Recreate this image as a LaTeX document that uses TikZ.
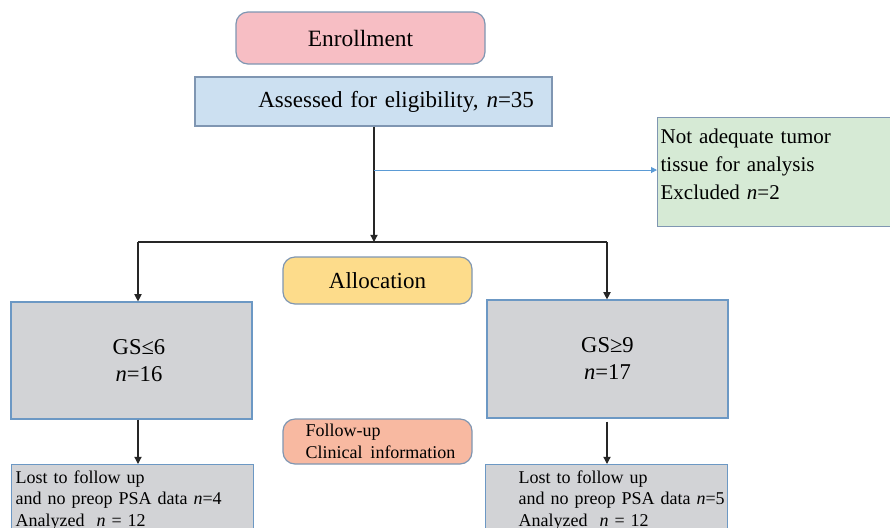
\documentclass[tikz,border=0pt]{standalone}
\usepackage{fontspec}
\setmainfont{Liberation Serif}
\usepackage{tikz}
\usetikzlibrary{arrows.meta,positioning,calc}

\definecolor{enrollfill}{HTML}{F7BEC4}
\definecolor{assessfill}{HTML}{CCE0F1}
\definecolor{exclfill}{HTML}{D6EAD5}
\definecolor{allocfill}{HTML}{FDDC8B}
\definecolor{groupfill}{HTML}{D2D3D6}
\definecolor{followfill}{HTML}{F8B9A1}
\definecolor{boxline}{HTML}{7F96B2}
\definecolor{grpline}{HTML}{6C98C4}
\definecolor{exclarrow}{HTML}{5B9BD5}

\tikzset{
  stagebox/.style={draw=boxline, line width=0.6pt, rounded corners=6pt, align=center},
  flowbox/.style={draw=grpline, line width=0.6pt, fill=groupfill},
  flowarrow/.style={-{Triangle[width=3.6pt,length=3.6pt]}, line width=0.6pt, black!85},
  flowline/.style={line width=0.6pt, black!85}
}

\begin{document}
\begin{tikzpicture}[x=0.5pt,y=-0.5pt]
  \useasboundingbox (0,0) rectangle (890,527);
  \clip (0,0) rectangle (890,527);
  % enrollment and eligibility
  \node[stagebox, fill=enrollfill, minimum width=124.5pt, minimum height=26pt,
        font=\fontsize{11.7}{14}\selectfont] (enroll) at (360.5,38) {Enrollment};
  \node[draw=boxline, line width=0.6pt, fill=assessfill, minimum width=178.5pt,
        minimum height=24.5pt, text width=160.5pt, inner xsep=9pt, align=right,
        font=\fontsize{11.5}{14}\selectfont] (assess) at (373.5,101.5)
        {Assessed for eligibility,\hspace{4pt}\textit{n}=35};
  % excluded
  \node[draw=boxline, line width=0.6pt, fill=exclfill, anchor=north west,
        text width=140pt, inner xsep=1.5pt, inner ysep=5.5pt, align=left,
        font=\fontsize{10.5}{14}\selectfont] (excl) at (657,117)
        {Not adequate tumor\\tissue for analysis\\Excluded \textit{n}=2\\[-6pt]\mbox{}};
  % allocation
  \node[stagebox, fill=allocfill, minimum width=94.5pt, minimum height=23.5pt,
        font=\fontsize{11.5}{14}\selectfont] (alloc) at (377.5,280.5) {Allocation};
  % groups
  \node[flowbox, minimum width=120.5pt, minimum height=58.5pt, align=center,
        font=\fontsize{11.3}{13.5}\selectfont] (gslow) at (131.5,360.5)
        {\hspace*{7.5pt}GS≤6\\\hspace*{7.5pt}\textit{n}=16};
  \node[flowbox, minimum width=120.5pt, minimum height=59pt, align=center,
        font=\fontsize{11.3}{13.5}\selectfont] (gshigh) at (607.5,359)
        {GS≥9\\\textit{n}=17};
  % follow-up
  \node[stagebox, fill=followfill, minimum width=94.5pt, minimum height=22.5pt,
        text width=72pt, inner xsep=11.25pt, inner ysep=2pt, align=left,
        font=\fontsize{9}{11}\selectfont] (follow) at (377.5,441.5)
        {Follow-up\\\mbox{Clinical\hspace{4pt}information}};
  % analysed
  \node[flowbox, anchor=north west, minimum width=120.5pt,
        text width=117pt, inner xsep=2pt, inner ysep=3pt, align=left,
        font=\fontsize{9}{10.8}\selectfont] (lostlow) at (11,464)
        {Lost to follow up\\and no preop PSA data \textit{n}=4\\Analyzed\ \ \textit{n} = 12\\[20pt]\mbox{}};
  \node[flowbox, anchor=north west, minimum width=121pt,
        text width=117pt, inner xsep=2pt, inner ysep=3pt, align=left,
        font=\fontsize{9}{10.8}\selectfont] (losthigh) at (485,464)
        {\hspace*{14.5pt}\mbox{Lost to follow up}\\\hspace*{14.5pt}\mbox{and no preop PSA data \textit{n}=5}\\
         \hspace*{14.5pt}\mbox{Analyzed\ \ \textit{n} = 12}\\[20pt]\mbox{}};
  % connectors
  \coordinate (split) at (374,170);
  \coordinate (junc) at (374,242);
  \coordinate (lcorner) at (138,242);
  \coordinate (rcorner) at (607,242);
  \draw[flowline] (assess.south -| junc) -- (split);
  \draw[flowarrow] (split) -- (junc);
  \draw[-{Triangle[width=3pt,length=3pt]}, line width=0.5pt, exclarrow]
    (split) -- (split -| excl.west);
  \draw[flowline] (lcorner) -- (rcorner);
  \draw[flowarrow] (lcorner) -- (lcorner |- gslow.north);
  \draw[flowarrow] (rcorner) -- (rcorner |- gshigh.north);
  \draw[flowarrow] (lcorner |- gslow.south) -- (lcorner |- lostlow.north);
  \draw[flowarrow] ([yshift=-1.5pt]rcorner |- gshigh.south) -- (rcorner |- losthigh.north);
\end{tikzpicture}
\end{document}
